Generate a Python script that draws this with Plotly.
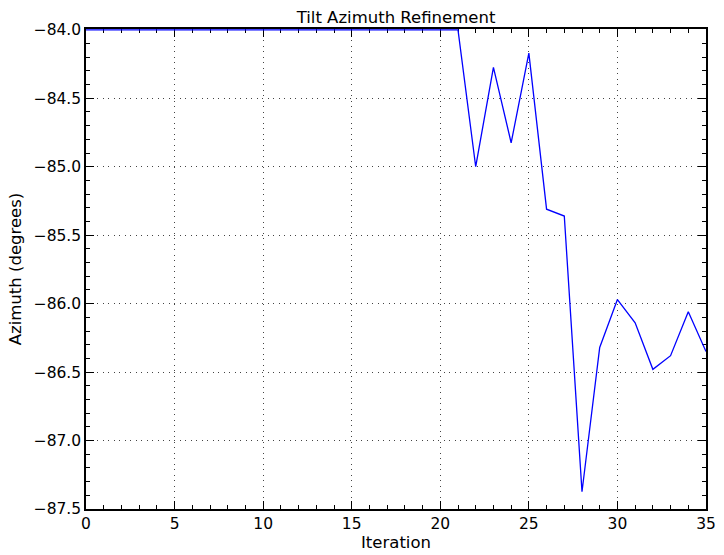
import plotly.graph_objects as go

iterations = list(range(36))
azimuth = [-84.0] * 22 + [
    -85.0, -84.275, -84.825, -84.17, -85.31, -85.36,
    -87.374, -86.32, -85.97, -86.14, -86.48, -86.38, -86.06, -86.35,
]

x_ticks = [0, 5, 10, 15, 20, 25, 30, 35]
y_ticks = [-84.0, -84.5, -85.0, -85.5, -86.0, -86.5, -87.0, -87.5]
y_labels = ["\u221284.0", "\u221284.5", "\u221285.0", "\u221285.5",
            "\u221286.0", "\u221286.5", "\u221287.0", "\u221287.5"]

fig = go.Figure()
fig.add_trace(go.Scatter(x=iterations, y=azimuth, mode="lines",
                         line=dict(color="#0000ff", width=1.3)))

font = "DejaVu Sans"
axis_common = dict(
    showline=True, linecolor="black", linewidth=1.5, mirror="ticks",
    ticks="inside", ticklen=8, tickwidth=1, tickcolor="black",
    showgrid=True, gridcolor="#444444", griddash="1.2px,4.3px", gridwidth=1,
    zeroline=False, automargin=False, layer="below traces",
    tickfont=dict(family=font, size=15.5, color="black"),
)

fig.update_layout(
    width=724, height=555,
    paper_bgcolor="white", plot_bgcolor="white",
    margin=dict(l=86, r=18, t=29, b=46, autoexpand=False),
    showlegend=False,
    title=dict(text="Tilt Azimuth Refinement", x=0.5, xref="paper", xanchor="center",
               y=1 - 17 / 555, yref="container", yanchor="middle",
               font=dict(family=font, size=16.5, color="black")),
    xaxis=dict(range=[0, 35], tickvals=x_ticks,
               minor=dict(dtick=1, ticks="inside", ticklen=4, tickcolor="black", showgrid=False),
               title=dict(text="Iteration", font=dict(family=font, size=16.5, color="black"), standoff=2),
               **axis_common),
    yaxis=dict(range=[-87.5, -83.994], tickvals=y_ticks, ticktext=y_labels,
               minor=dict(dtick=0.1, tick0=-84.0, ticks="inside", ticklen=4, tickcolor="black", showgrid=False),
               title=dict(text="Azimuth (degrees)", font=dict(family=font, size=16.5, color="black"), standoff=8),
               **axis_common),
)

fig.write_html("out.html", config={"displayModeBar": False},
               post_script="document.body.style.margin='0';")
